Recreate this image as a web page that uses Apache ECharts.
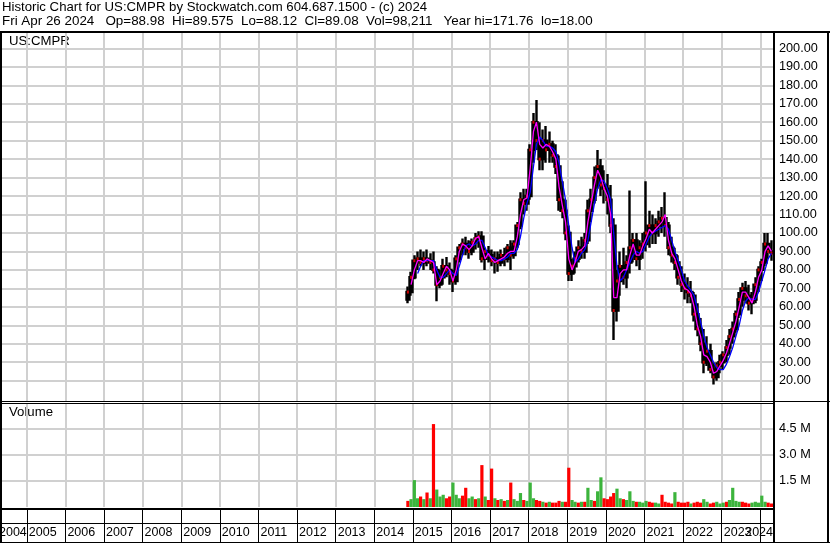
<!DOCTYPE html>
<html><head><meta charset="utf-8">
<script src="https://cdn.jsdelivr.net/npm/echarts@6/dist/echarts.min.js"></script>
<style>html,body{margin:0;padding:0;background:#fff}#c{width:830px;height:543px}</style>
</head><body><div id="c"></div>
<script>
// ---------- DATA ----------
const yearLabels = ['2004','2005','2006','2007','2008','2009','2010','2011','2012','2013','2014','2015','2016','2017','2018','2019','2020','2021','2022','2023','2024'];
const months = [
 '2014-11','2014-12',
 '2015-01','2015-02','2015-03','2015-04','2015-05','2015-06','2015-07','2015-08','2015-09','2015-10','2015-11','2015-12',
 '2016-01','2016-02','2016-03','2016-04','2016-05','2016-06','2016-07','2016-08','2016-09','2016-10','2016-11','2016-12',
 '2017-01','2017-02','2017-03','2017-04','2017-05','2017-06','2017-07','2017-08','2017-09','2017-10','2017-11','2017-12',
 '2018-01','2018-02','2018-03','2018-04','2018-05','2018-06','2018-07','2018-08','2018-09','2018-10','2018-11','2018-12',
 '2019-01','2019-02','2019-03','2019-04','2019-05','2019-06','2019-07','2019-08','2019-09','2019-10','2019-11','2019-12',
 '2020-01','2020-02','2020-03','2020-04','2020-05','2020-06','2020-07','2020-08','2020-09','2020-10','2020-11','2020-12',
 '2021-01','2021-02','2021-03','2021-04','2021-05','2021-06','2021-07','2021-08','2021-09','2021-10','2021-11','2021-12',
 '2022-01','2022-02','2022-03','2022-04','2022-05','2022-06','2022-07','2022-08','2022-09','2022-10','2022-11','2022-12',
 '2023-01','2023-02','2023-03','2023-04','2023-05','2023-06','2023-07','2023-08','2023-09','2023-10','2023-11','2023-12',
 '2024-01','2024-02','2024-03','2024-04'];
const opens = [64,68,
 76,85,86,84,86,85,84,80,72,76,82,80,
 78,74,86,92,94,92,90,95,97,98,86,90,
 88,85,86,84,88,86,92,88,94,104,118,116,
 120,145,160,150,140,150,145,148,142,136,118,112,
 100,78,82,86,92,90,96,112,118,130,136,126,
 124,118,104,58,74,82,76,84,92,96,86,92,
 94,100,104,100,104,106,108,104,92,88,84,76,
 72,70,68,66,56,48,40,30,36,26,22,28,
 30,34,38,44,48,56,64,70,66,62,64,72,
 80,84,94,90];
const highs = [71,79,
 88,90,91,90,91,89,90,82,80,86,87,84,
 80,88,94,97,98,96,97,100,101,101,92,93,
 91,90,90,91,92,94,96,96,106,122,124,124,
 148,165,172,160,156,158,155,150,148,142,128,118,
 104,86,90,96,98,100,118,124,136,145,140,134,
 132,126,108,80,90,92,88,123,100,100,96,100,
 128,112,110,108,112,114,122,106,98,92,88,82,
 78,76,74,68,62,54,48,44,40,30,30,34,
 36,42,48,52,58,68,73,74,72,68,76,82,
 86,100,100,96];
const lows = [62,66,
 75,80,82,80,82,80,78,63,70,72,76,72,
 68,72,84,88,88,86,88,91,92,84,80,84,
 82,78,79,82,82,84,80,86,92,102,110,112,
 118,138,145,134,134,138,138,138,132,112,108,96,
 74,74,78,84,86,86,94,106,116,124,120,116,
 110,100,42,52,66,72,70,78,84,82,80,86,
 90,92,94,94,98,100,98,88,84,80,72,68,
 64,62,62,52,44,36,24,28,24,18,20,24,
 26,30,34,40,46,54,60,62,58,56,62,68,
 74,82,86,85];
const closes = [68,76,
 85,86,84,86,85,84,80,72,76,82,80,78,
 74,86,92,94,92,90,95,97,98,86,90,88,
 85,86,84,88,86,92,88,94,104,118,116,120,
 145,160,150,140,150,145,148,142,136,118,112,100,
 78,82,86,92,90,96,112,118,130,136,126,124,
 118,104,58,74,82,76,84,92,96,86,92,94,
 100,104,100,104,106,108,104,92,88,84,76,72,
 70,68,66,56,48,40,30,36,26,22,28,30,
 34,38,44,48,56,64,70,66,62,64,72,80,
 84,94,90,89.08];
const shortAvg = [null,72,
 80,85,85,84,86,85,84,72,74,78,82,80,
 74,80,90,94,93,91,93,97,98,92,86,89,
 86,84,85,86,87,89,90,90,98,110,118,119,
 135,155,160,148,146,148,147,144,140,125,115,106,
 86,80,84,90,91,93,106,116,126,134,130,124,
 120,110,65,65,78,80,80,88,94,88,88,93,
 97,102,100,102,104,106,110,96,89,86,80,74,
 70,69,67,60,50,44,34,33,30,24,25,28,
 31,35,40,46,52,60,68,68,65,62,68,76,
 80,90,93,90];
const longAvg = [null,null,
 null,78,82,85,85,85,85,80,76,76,78,80,
 78,77,82,88,93,94,93,94,96,96,92,88,
 87,86,85,85,86,87,89,89,91,98,108,116,
 122,136,148,152,150,147,147,146,144,138,128,118,
 104,92,84,86,89,91,96,106,116,124,129,128,
 124,118,100,82,74,76,80,84,88,90,89,90,
 94,98,100,101,102,103,104,102,96,90,85,80,
 74,71,69,66,59,52,44,38,34,30,27,26,
 26,29,33,38,44,50,58,63,65,64,64,68,
 74,80,86,89];
// volume in thousands of shares
const volumeK = [350,450,
 1540,500,600,450,830,500,4750,1000,600,700,500,600,
 1400,700,500,650,1100,500,600,450,500,2400,600,400,
 2200,500,400,450,350,400,1400,450,350,800,400,350,
 1400,500,400,350,300,250,300,250,250,350,300,300,
 2250,400,300,250,300,300,1100,400,350,900,1700,500,
 450,600,800,1050,500,450,400,900,350,300,300,250,
 350,300,250,250,200,700,300,250,200,850,300,250,
 250,300,200,250,300,250,450,300,200,250,300,200,
 250,300,400,1100,350,300,300,250,200,250,300,250,
 650,300,250,200];
const volumeUp = [0,1,
 1,1,0,1,0,1,0,1,1,1,0,0,
 1,1,1,0,0,1,1,0,1,0,1,0,
 0,1,0,1,0,1,0,1,1,1,0,1,
 1,1,0,0,1,0,1,0,0,0,1,0,
 0,1,1,0,1,0,1,1,0,1,1,0,
 0,0,0,1,1,0,1,1,1,0,1,1,
 1,0,0,1,1,0,0,0,0,1,0,0,
 0,0,1,0,0,0,1,1,0,0,1,1,
 1,0,1,1,1,1,0,0,0,1,1,1,
 1,1,0,0];
const priceTicks = [20,30,40,50,60,70,80,90,100,110,120,130,140,150,160,170,180,190,200];
const volumeTicksK = [1500,3000,4500];
const headerLine1 = 'Historic Chart for US:CMPR by Stockwatch.com 604.687.1500 - (c) 2024';
const headerLine2 = 'Fri Apr 26 2024   Op=88.98  Hi=89.575  Lo=88.12  Cl=89.08  Vol=98,211   Year hi=171.76  lo=18.00';
const symbolName = 'US:CMPR';
const volumeTitle = 'Volume';

// ---------- CHART ----------
const FONT = '"Liberation Sans", Arial, sans-serif';
const T = s => new Date(s + 'T00:00:00').getTime();
const mid = m => T(m + '-15');
const yearTicks = yearLabels.slice(1).map(y => T(y + '-01-01'));
const xMin = T('2004-05-11'), xMax = T('2024-04-30');
const GRID = '#d0d0d0';

const chart = echarts.init(document.getElementById('c'), null, {renderer: 'canvas'});

function xAxisFor(grid, split, labels) {
  return {
    type: 'value', gridIndex: grid, min: xMin, max: xMax, scale: true,
    axisLine: {show: false},
    axisTick: {show: false, customValues: yearTicks},
    splitLine: {show: true, lineStyle: {color: split, width: split === GRID ? 2 : 1}},
    axisLabel: labels ? {
      show: true, inside: true, margin: 10, verticalAlign: 'middle', align: 'left',
      customValues: yearTicks.slice(0, yearTicks.length - 1),
      formatter: v => String(new Date(v).getFullYear()),
      color: '#000', fontFamily: FONT, fontSize: 12.5, padding: [0, 0, 0, 2]
    } : {show: false}
  };
}

const option = {
  animation: false,
  backgroundColor: '#fff',
  grid: [
    {left: 2, right: 57, top: 33, height: 368},
    {left: 2, right: 57, top: 404, height: 103},
    {left: 2, right: 57, top: 510, height: 33}
  ],
  xAxis: [xAxisFor(0, GRID, false), xAxisFor(1, GRID, false), xAxisFor(2, '#000', true)],
  yAxis: [
    {type: 'value', gridIndex: 0, position: 'right', min: 9, max: 208.3,
     axisLine: {show: false}, axisTick: {show: false, customValues: priceTicks},
     splitLine: {show: true, lineStyle: {color: GRID, width: 2}},
     axisLabel: {customValues: priceTicks, formatter: v => v.toFixed(2), margin: 6, align: 'left',
       color: '#000', fontFamily: FONT, fontSize: 12.7}},
    {type: 'value', gridIndex: 1, position: 'right', min: 0, max: 5900,
     axisLine: {show: false}, axisTick: {show: false, customValues: volumeTicksK},
     splitLine: {show: true, lineStyle: {color: GRID, width: 2}},
     axisLabel: {customValues: volumeTicksK, formatter: v => (v / 1000).toFixed(1) + ' M', margin: 6, align: 'left',
       color: '#000', fontFamily: FONT, fontSize: 12.7}},
    {type: 'value', gridIndex: 2, show: false}
  ],
  series: [
    {type: 'candlestick', xAxisIndex: 0, yAxisIndex: 0, barWidth: 3.2, barMaxWidth: 3.2, barMinWidth: 3.2,
     itemStyle: {color: '#000', color0: '#000', borderColor: '#000', borderColor0: '#000', borderWidth: 2.4},
     data: months.map((m, i) => [mid(m), opens[i], closes[i], lows[i], highs[i]])},
    {type: 'scatter', xAxisIndex: 0, yAxisIndex: 0, symbol: 'rect', symbolSize: [2, 3],
     itemStyle: {color: '#ff0000'}, data: months.map((m, i) => [mid(m), closes[i]])},
    {type: 'line', xAxisIndex: 0, yAxisIndex: 0, showSymbol: false, symbol: 'none',
     lineStyle: {color: '#0000ff', width: 1.3}, data: months.map((m, i) => [mid(m), longAvg[i]])},
    {type: 'line', xAxisIndex: 0, yAxisIndex: 0, showSymbol: false, symbol: 'none',
     lineStyle: {color: '#ff00ff', width: 1.3}, data: months.map((m, i) => [mid(m), shortAvg[i]])},
    {type: 'bar', xAxisIndex: 1, yAxisIndex: 1, barWidth: 3.2,
     data: months.map((m, i) => ({value: [mid(m), volumeK[i]],
       itemStyle: {color: volumeUp[i] ? '#3cb43c' : '#ff0000'}}))}
  ],
  graphic: [
    {type: 'text', left: 2, top: 1, style: {text: headerLine1, font: '13.2px ' + FONT, fill: '#000'}},
    {type: 'text', left: 2, top: 15, style: {text: headerLine2, font: '13.4px ' + FONT, fill: '#000'}},
    {type: 'rect', shape: {x: 0, y: 31, width: 830, height: 2}, style: {fill: '#000'}},
    {type: 'rect', shape: {x: 0, y: 33, width: 2, height: 510}, style: {fill: '#000'}},
    {type: 'rect', shape: {x: 773, y: 33, width: 2, height: 510}, style: {fill: '#000'}},
    {type: 'rect', shape: {x: 827, y: 33, width: 2, height: 510}, style: {fill: '#000'}},
    {type: 'rect', shape: {x: 0, y: 401, width: 830, height: 1}, style: {fill: '#000'}},
    {type: 'rect', shape: {x: 0, y: 403, width: 775, height: 1}, style: {fill: '#000'}},
    {type: 'rect', shape: {x: 0, y: 508, width: 775, height: 2}, style: {fill: '#000'}},
    {type: 'rect', shape: {x: 0, y: 523, width: 775, height: 1}, style: {fill: '#000'}},
    {type: 'rect', shape: {x: 0, y: 542, width: 830, height: 1}, style: {fill: '#000'}},
    {type: 'text', x: 9, y: 41, style: {text: symbolName, font: '13.2px ' + FONT, fill: '#000', verticalAlign: 'middle'}},
    {type: 'text', x: 9, y: 412.5, style: {text: volumeTitle, font: '13.2px ' + FONT, fill: '#000', verticalAlign: 'middle'}},
    {type: 'text', x: -1, y: 533, style: {text: yearLabels[0], font: '12.5px ' + FONT, fill: '#000', verticalAlign: 'middle'}},
    {type: 'text', x: 773, y: 533, style: {text: yearLabels[yearLabels.length - 1], font: '12.5px ' + FONT, fill: '#000', verticalAlign: 'middle', align: 'right'}}
  ]
};
chart.setOption(option);
</script>
</body></html>
